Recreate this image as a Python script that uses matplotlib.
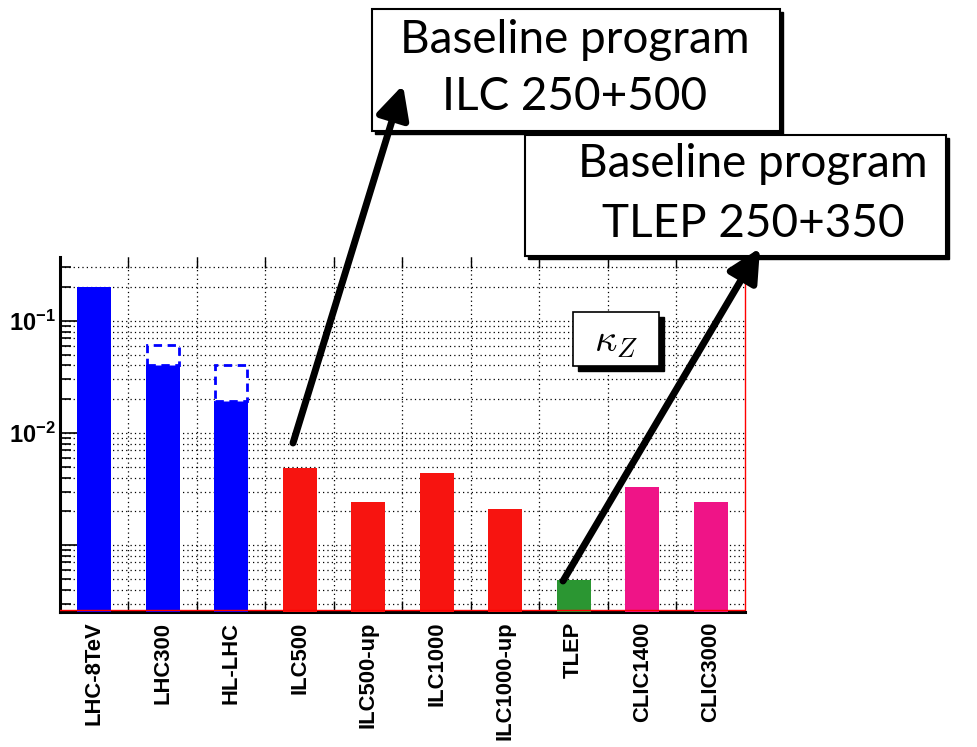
import matplotlib.pyplot as plt
import numpy as np
from matplotlib.patches import Rectangle, FancyArrowPatch
from matplotlib.ticker import LogLocator, NullFormatter, FixedLocator

plt.rcParams['mathtext.fontset'] = 'custom'
plt.rcParams['mathtext.rm'] = 'Liberation Sans:bold'
plt.rcParams['mathtext.it'] = 'Liberation Sans:bold'
plt.rcParams['mathtext.bf'] = 'Liberation Sans:bold'

# data
facilities = ['LHC-8TeV', 'LHC300', 'HL-LHC', 'ILC500', 'ILC500-up',
              'ILC1000', 'ILC1000-up', 'TLEP', 'CLIC1400', 'CLIC3000']
kappa_z = [0.2, 0.04, 0.0194, 0.0049, 0.0024, 0.0044, 0.0021, 0.00049, 0.0033, 0.0024]
bar_colors = ['#0000ff', '#0000ff', '#0000ff', '#f71410', '#f71410', '#f71410',
              '#f71410', '#2b9632', '#ef1487', '#ef1487']
# dashed boxes (range of scenarios)
dashed_idx = [1, 2]
dashed_hi = [0.061, 0.0405]

W, H = 978, 747
fig = plt.figure(figsize=(W / 100, H / 100), dpi=100)

def fx(x):
    return x / W

def fy(y):
    return 1 - y / H

ax = fig.add_axes([fx(60), fy(612), fx(745) - fx(60), fy(257) - fy(612)])
ax.set_yscale('log')
ax.set_xlim(0, len(facilities))
ax.set_ylim(2.52e-4, 0.372)

x = np.arange(len(facilities)) + 0.5
ax.bar(x, kappa_z, width=0.5, bottom=1e-6, color=bar_colors, zorder=3)
for i, hi in zip(dashed_idx, dashed_hi):
    ax.bar(x[i], hi - kappa_z[i], bottom=kappa_z[i], width=0.47, color='white',
           edgecolor='#0000ff', linestyle=(0, (3, 2)), linewidth=2, zorder=3)

# ticks and grid
ax.set_xticks(x)
ax.set_xticklabels(facilities, rotation=90, fontsize=15.8, fontweight='bold',
                   family='Liberation Sans')
ax.xaxis.set_minor_locator(FixedLocator(np.arange(1, len(facilities))))
ax.tick_params(axis='x', which='major', length=0, pad=7)
ax.tick_params(axis='x', which='minor', direction='in', length=8, width=1,
               top=True, bottom=True)
ax.set_yticks([1e-3, 1e-2, 1e-1])
ax.set_yticklabels(['', r'$10^{-2}$', r'$10^{-1}$'], fontsize=17)
ax.yaxis.set_minor_locator(LogLocator(base=10, subs=np.arange(2, 10)))
ax.yaxis.set_minor_formatter(NullFormatter())
ax.tick_params(axis='y', which='major', direction='in', length=15, width=1.2, pad=3)
ax.tick_params(axis='y', which='minor', direction='in', length=8, width=1.2)
ax.grid(True, which='both', axis='y', color='black', linestyle=(0, (1, 2.5)), linewidth=0.9)
ax.grid(True, which='minor', axis='x', color='black', linestyle=(0, (1, 2.5)), linewidth=0.9)
ax.set_axisbelow(True)

ax.spines['top'].set_visible(False)
ax.spines['right'].set_color('#ff0000')
ax.spines['right'].set_linewidth(1)
ax.spines['left'].set_linewidth(2.2)
ax.spines['bottom'].set_linewidth(2.2)
ax.axhline(2.6e-4, color='#ff0000', linewidth=1, zorder=4)

def shadow_box(x0, y0, x1, y1, off=3, lw=1.5):
    fig.add_artist(Rectangle((fx(x0 + off), fy(y1 + off)), fx(x1 - x0), fy(y0) - fy(y1),
                             transform=fig.transFigure, facecolor='black',
                             edgecolor='black', zorder=10))
    fig.add_artist(Rectangle((fx(x0), fy(y1)), fx(x1 - x0), fy(y0) - fy(y1),
                             transform=fig.transFigure, facecolor='white',
                             edgecolor='black', linewidth=lw, zorder=11))

def arrow(tail, head):
    fig.add_artist(FancyArrowPatch((fx(tail[0]), fy(tail[1])), (fx(head[0]), fy(head[1])),
                                   transform=fig.transFigure, color='black',
                                   arrowstyle='-|>,head_length=0.9,head_width=0.45',
                                   mutation_scale=22, linewidth=5, zorder=12,
                                   shrinkA=0, shrinkB=0))

box_font = dict(family='Lato', fontsize=33, color='black', ha='center',
                va='baseline', zorder=13)

shadow_box(372, 9, 780, 131)
fig.text(fx(575), fy(53), 'Baseline program', **box_font)
fig.text(fx(575), fy(110), 'ILC 250+500', **box_font)

shadow_box(525, 135, 946, 256)
fig.text(fx(753), fy(177), 'Baseline program', **box_font)
fig.text(fx(753), fy(237), 'TLEP 250+350', **box_font)

shadow_box(573, 312, 659, 366, off=5, lw=1.2)
fig.text(fx(616), fy(341), r'$\kappa_Z$', fontsize=28, math_fontfamily='cm',
         ha='center', va='center', zorder=13)

arrow((293, 443), (403, 85))
arrow((563, 581), (760, 248))

# cut-off title descenders at the very top
fig.text(fx(116), fy(-6), 'g', family='Lato', fontsize=26, color='#0070c0',
         ha='center', va='baseline')
fig.text(fx(667), fy(-6), 'g', family='Lato', fontsize=26, color='#0070c0',
         ha='center', va='baseline')

fig.savefig('out.png', dpi=100)
